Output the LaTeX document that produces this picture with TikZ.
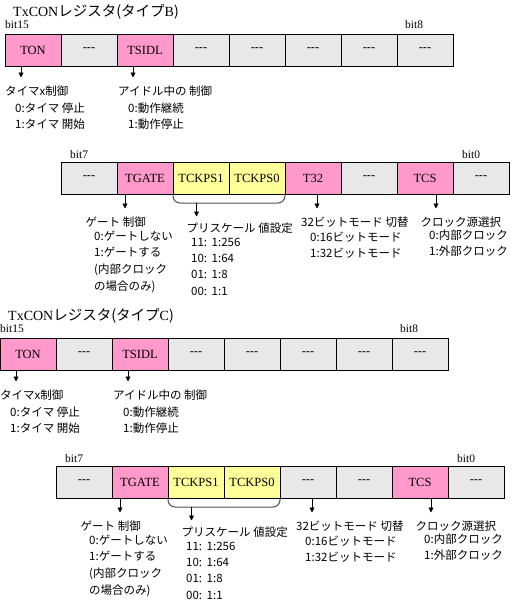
\documentclass[tikz,border=0pt]{standalone}
\usepackage{fontspec}
\setmainfont{Liberation Serif}
\setsansfont{Liberation Sans}
\newfontfamily\jp{Noto Sans CJK JP}
\usetikzlibrary{arrows.meta,calc}
\definecolor{regpink}{HTML}{FF99CC}
\definecolor{regyellow}{HTML}{FFFF99}
\definecolor{reggray}{HTML}{E8E8E8}
\definecolor{bracegray}{HTML}{505050}
\newcommand\dashes{{\sffamily\fontsize{12.5}{14}\selectfont -{}-{}-}}
\tikzset{
  cell/.style={draw=black,line width=1pt,minimum width=56pt,minimum height=32pt,
    inner sep=0pt,outer sep=0pt,anchor=north west,font=\fontsize{12.5}{14}\selectfont},
  pinkcell/.style={cell,fill=regpink},
  graycell/.style={cell,fill=reggray},
  yellowcell/.style={cell,fill=regyellow},
  bitlbl/.style={inner sep=0pt,anchor=west,font=\fontsize{11.5}{13}\selectfont},
  lbl/.style={inner sep=0pt,anchor=base west,font=\jp\fontsize{11.5}{14}\selectfont},
  ttl/.style={inner sep=0pt,anchor=base west,font=\fontsize{14}{16}\selectfont},
  arr/.style={line width=0.9pt,-{Triangle[length=5pt,width=5pt]}},
  bracket/.style={draw=bracegray,line width=1pt,rounded corners=7pt},
}
% #1 prefix, #2 type letter, #3 style of bit 3 cell, #4 text of bit 3 cell, #5 dx, #6 dy
\newcommand\TxDiagram[6]{%
  \node[ttl] (#1title) at ({13+#5},{16.5+#6}) {TxCON{\jp\fontsize{14.5}{16}\selectfont レジスタ(タイプ}#2{\jp )}};
  \node[bitlbl] (#1bitF) at ({5+#5},{25+#6}) {bit15};
  \node[bitlbl] (#1bitE) at ({405+#5},{25+#6}) {bit8};
  \node[pinkcell] (#1aP) at ({5+#5},{34+#6}) {TON};
  \node[graycell] (#1aO) at (#1aP.north east) {\dashes};
  \node[pinkcell] (#1aN) at (#1aO.north east) {TSIDL};
  \node[graycell] (#1aM) at (#1aN.north east) {\dashes};
  \node[graycell] (#1aL) at (#1aM.north east) {\dashes};
  \node[graycell] (#1aK) at (#1aL.north east) {\dashes};
  \node[graycell] (#1aJ) at (#1aK.north east) {\dashes};
  \node[graycell] (#1aI) at (#1aJ.north east) {\dashes};
  % row 1 annotations
  \coordinate (#1eP) at ({21+#5},{77.5+#6});
  \draw[arr] (#1eP |- #1aP.south) -- (#1eP);
  \node[lbl] (#1tP1) at ({5+#5},{95+#6}) {タイマx制御};
  \node[lbl] (#1tP2) at ({15+#5},{112+#6}) {0:タイマ 停止};
  \node[lbl] (#1tP3) at ({15+#5},{128+#6}) {1:タイマ 開始};
  \coordinate (#1eN) at ({133+#5},{77.5+#6});
  \draw[arr] (#1eN |- #1aN.south) -- (#1eN);
  \node[lbl] (#1tN1) at ({118+#5},{95+#6}) {アイドル中の 制御};
  \node[lbl] (#1tN2) at ({128+#5},{112+#6}) {0:動作継続};
  \node[lbl] (#1tN3) at ({128+#5},{128+#6}) {1:動作停止};
  % row 2
  \node[bitlbl] (#1bitD) at ({70+#5},{155+#6}) {bit7};
  \node[bitlbl] (#1bitA) at ({462+#5},{155+#6}) {bit0};
  \node[graycell] (#1aH) at ({61+#5},{162+#6}) {\dashes};
  \node[pinkcell] (#1aG) at (#1aH.north east) {TGATE};
  \node[yellowcell] (#1aF) at (#1aG.north east) {TCKPS1};
  \node[yellowcell] (#1aE) at (#1aF.north east) {TCKPS0};
  \node[#3] (#1aD) at (#1aE.north east) {#4};
  \node[graycell] (#1aC) at (#1aD.north east) {\dashes};
  \node[pinkcell] (#1aB) at (#1aC.north east) {TCS};
  \node[graycell] (#1aA) at (#1aB.north east) {\dashes};
  % TGATE
  \coordinate (#1eG) at ({125+#5},{208.5+#6});
  \draw[arr] (#1eG |- #1aG.south) -- (#1eG);
  \node[lbl] (#1tG1) at ({85.5+#5},{226+#6}) {ゲート 制御};
  \node[lbl] (#1tG2) at ({94+#5},{240+#6}) {0:ゲートしない};
  \node[lbl] (#1tG3) at ({94+#5},{256.5+#6}) {1:ゲートする};
  \node[lbl] (#1tG4) at ({94+#5},{273+#6}) {(内部クロック};
  \node[lbl] (#1tG5) at ({94+#5},{290+#6}) {の場合のみ)};
  % prescaler bracket
  \draw[bracket] (#1aF.south west) -- ($(#1aF.south west)+(0,9)$)
     -- ($(#1aE.south east)+(0,9)$) -- (#1aE.south east);
  \coordinate (#1bF) at ($(#1aF.south west)+(23.5,9)$);
  \coordinate (#1eF) at ($(#1aF.south west)+(23.5,22.5)$);
  \draw[arr] (#1bF) -- (#1eF);
  \node[lbl] (#1tF1) at ({186.5+#5},{232+#6}) {プリスケール 値設定};
  \node[lbl] (#1tF2) at ({191+#5},{246+#6}) {\makebox[20.5pt][l]{11:}1:256};
  \node[lbl] (#1tF3) at ({191+#5},{262.5+#6}) {\makebox[20.5pt][l]{10:}1:64};
  \node[lbl] (#1tF4) at ({191+#5},{278.5+#6}) {\makebox[20.5pt][l]{01:}1:8};
  \node[lbl] (#1tF5) at ({191+#5},{295+#6}) {\makebox[20.5pt][l]{00:}1:1};
  % T32
  \coordinate (#1eD) at ({317+#5},{208.5+#6});
  \draw[arr] (#1eD |- #1aD.south) -- (#1eD);
  \node[lbl] (#1tD1) at ({301+#5},{226.5+#6}) {32ビットモード 切替};
  \node[lbl] (#1tD2) at ({310+#5},{241+#6}) {0:16ビットモード};
  \node[lbl] (#1tD3) at ({310+#5},{257+#6}) {1:32ビットモード};
  % TCS
  \coordinate (#1eB) at ({436+#5},{208.5+#6});
  \draw[arr] (#1eB |- #1aB.south) -- (#1eB);
  \node[lbl] (#1tB1) at ({420.5+#5},{226.5+#6}) {クロック源選択};
  \node[lbl] (#1tB2) at ({429+#5},{239+#6}) {0:内部クロック};
  \node[lbl] (#1tB3) at ({429+#5},{255+#6}) {1:外部クロック};
}
\begin{document}
\begin{tikzpicture}[x=1pt,y=-1pt]
  \useasboundingbox (0,0) rectangle (517,603);
  \TxDiagram{b}{B}{pinkcell}{T32}{0}{0}
  \TxDiagram{c}{C}{graycell}{\dashes}{-5}{304}
\end{tikzpicture}
\end{document}
